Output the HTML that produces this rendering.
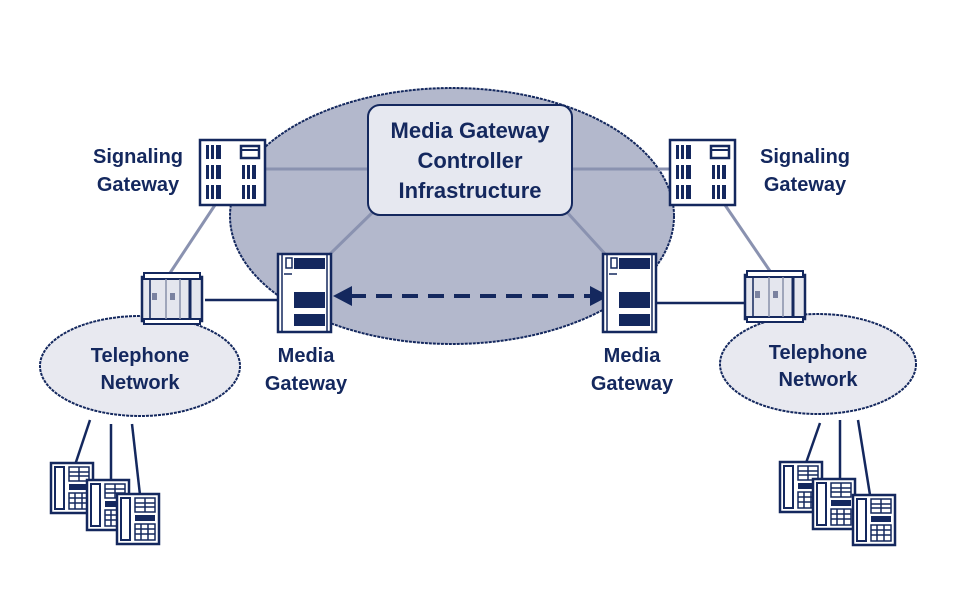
<!DOCTYPE html>
<html><head><meta charset="utf-8"><style>
html,body{margin:0;padding:0;background:#fff;}
svg{display:block;}
text{font-family:"Liberation Sans",Arial,sans-serif;font-weight:bold;fill:#14285e;}
</style></head><body>
<svg width="954" height="608" viewBox="0 0 954 608" xmlns="http://www.w3.org/2000/svg">
<defs>
<g id="phone">
  <rect x="0" y="0" width="42" height="50" fill="#fff" stroke="#14285e" stroke-width="2.5"/>
  <rect x="4" y="4" width="9" height="42" fill="#fff" stroke="#14285e" stroke-width="2"/>
  <rect x="18" y="4" width="20" height="14" fill="none" stroke="#14285e" stroke-width="1.5"/>
  <line x1="18" y1="9" x2="38" y2="9" stroke="#14285e" stroke-width="1.5"/>
  <line x1="18" y1="13" x2="38" y2="13" stroke="#14285e" stroke-width="1.5"/>
  <line x1="28" y1="4" x2="28" y2="18" stroke="#14285e" stroke-width="1.5"/>
  <rect x="18" y="21" width="20" height="6" fill="#14285e"/>
  <rect x="18" y="30" width="20" height="16" fill="none" stroke="#14285e" stroke-width="1.5"/>
  <line x1="18" y1="35" x2="38" y2="35" stroke="#14285e" stroke-width="1.5"/>
  <line x1="18" y1="40" x2="38" y2="40" stroke="#14285e" stroke-width="1.5"/>
  <line x1="24" y1="30" x2="24" y2="46" stroke="#14285e" stroke-width="1.5"/>
  <line x1="31" y1="30" x2="31" y2="46" stroke="#14285e" stroke-width="1.5"/>
</g>
<g id="sg">
  <rect x="0" y="0" width="65" height="65" fill="#fff" stroke="#14285e" stroke-width="2.5"/>
  <g fill="#14285e">
    <rect x="6" y="5" width="3" height="14"/><rect x="11" y="5" width="3" height="14"/><rect x="16" y="5" width="5" height="14"/>
    <rect x="6" y="25" width="3" height="14"/><rect x="11" y="25" width="3" height="14"/><rect x="16" y="25" width="5" height="14"/>
    <rect x="6" y="45" width="3" height="14"/><rect x="11" y="45" width="3" height="14"/><rect x="16" y="45" width="5" height="14"/>
    <rect x="42" y="25" width="3" height="14"/><rect x="47" y="25" width="3" height="14"/><rect x="52" y="25" width="4" height="14"/>
    <rect x="42" y="45" width="3" height="14"/><rect x="47" y="45" width="3" height="14"/><rect x="52" y="45" width="4" height="14"/>
  </g>
  <rect x="41" y="6" width="18" height="12" fill="#fff" stroke="#14285e" stroke-width="2.5"/>
  <line x1="41" y1="10" x2="59" y2="10" stroke="#14285e" stroke-width="2"/>
</g>
<g id="mg">
  <rect x="0" y="0" width="53" height="78" fill="#fff" stroke="#14285e" stroke-width="2.5"/>
  <line x1="4" y1="0" x2="4" y2="78" stroke="#14285e" stroke-width="1.5"/>
  <line x1="49" y1="0" x2="49" y2="78" stroke="#14285e" stroke-width="1.5"/>
  <rect x="8" y="4" width="6" height="10" fill="#fff" stroke="#14285e" stroke-width="1.5"/>
  <rect x="16" y="4" width="31" height="11" fill="#14285e"/>
  <line x1="6" y1="20" x2="14" y2="20" stroke="#14285e" stroke-width="1.5"/>
  <rect x="16" y="38" width="31" height="16" fill="#14285e"/>
  <rect x="16" y="60" width="31" height="12" fill="#14285e"/>
</g>
<g id="conn">
  <rect x="0" y="4" width="60" height="44" fill="#e4e6ee" stroke="#14285e" stroke-width="2.5"/>
  <rect x="2" y="0" width="56" height="6" fill="#fff" stroke="#14285e" stroke-width="2"/>
  <rect x="2" y="46" width="56" height="5" fill="#fff" stroke="#14285e" stroke-width="2"/>
  <line x1="8" y1="6" x2="8" y2="46" stroke="#14285e" stroke-width="1.5"/>
  <line x1="24" y1="6" x2="24" y2="46" stroke="#8890aa" stroke-width="1.5"/>
  <line x1="38" y1="6" x2="38" y2="46" stroke="#8890aa" stroke-width="1.5"/>
  <line x1="48" y1="6" x2="48" y2="46" stroke="#14285e" stroke-width="3"/>
  <rect x="10" y="20" width="5" height="7" fill="#7a82a0"/>
  <rect x="28" y="20" width="5" height="7" fill="#7a82a0"/>
</g>
</defs>

<!-- big ellipse -->
<ellipse cx="452" cy="216" rx="222" ry="128" fill="#b3b8cc" stroke="#14285e" stroke-width="2" stroke-dasharray="3,1"/>

<!-- lines -->
<g stroke="#8a92b0" stroke-width="3">
  <line x1="265" y1="169" x2="370" y2="169"/>
  <line x1="570" y1="169" x2="670" y2="169"/>
  <line x1="215" y1="205" x2="168" y2="276"/>
  <line x1="725" y1="205" x2="772" y2="274"/>
  <line x1="375" y1="210" x2="328" y2="256"/>
  <line x1="565" y1="210" x2="606" y2="255"/>
</g>
<g stroke="#14285e" stroke-width="2.5">
  <line x1="205" y1="300" x2="280" y2="300"/>
  <line x1="656" y1="303" x2="747" y2="303"/>
</g>

<!-- MGC box -->
<rect x="368" y="105" width="204" height="110" rx="12" fill="#e6e8f0" stroke="#14285e" stroke-width="2"/>
<text x="470" y="138" font-size="22" text-anchor="middle">Media Gateway</text>
<text x="470" y="168" font-size="22" text-anchor="middle">Controller</text>
<text x="470" y="198" font-size="22" text-anchor="middle">Infrastructure</text>

<!-- dashed arrow -->
<line x1="350" y1="296" x2="592" y2="296" stroke="#14285e" stroke-width="4" stroke-dasharray="16,10"/>
<polygon points="333,296 352,286 352,306" fill="#14285e"/>
<polygon points="609,296 590,286 590,306" fill="#14285e"/>

<!-- telephone networks -->
<ellipse cx="140" cy="366" rx="100" ry="50" fill="#e8e9f0" stroke="#14285e" stroke-width="2" stroke-dasharray="3,1"/>
<ellipse cx="818" cy="364" rx="98" ry="50" fill="#e8e9f0" stroke="#14285e" stroke-width="2" stroke-dasharray="3,1"/>
<text x="140" y="362" font-size="20" text-anchor="middle">Telephone</text>
<text x="140" y="389" font-size="20" text-anchor="middle">Network</text>
<text x="818" y="359" font-size="20" text-anchor="middle">Telephone</text>
<text x="818" y="386" font-size="20" text-anchor="middle">Network</text>

<!-- phone lines -->
<g stroke="#14285e" stroke-width="2.5" fill="none">
  <line x1="90" y1="420" x2="75" y2="465"/>
  <line x1="111" y1="424" x2="111" y2="482"/>
  <line x1="132" y1="424" x2="140" y2="495"/>
  <line x1="820" y1="423" x2="806" y2="463"/>
  <line x1="840" y1="420" x2="840" y2="480"/>
  <line x1="858" y1="420" x2="870" y2="495"/>
</g>
<use href="#phone" x="51" y="463"/>
<use href="#phone" x="87" y="480"/>
<use href="#phone" x="117" y="494"/>
<use href="#phone" x="780" y="462"/>
<use href="#phone" x="813" y="479"/>
<use href="#phone" x="853" y="495"/>

<!-- devices -->
<use href="#sg" x="200" y="140"/>
<use href="#sg" x="670" y="140"/>
<use href="#mg" x="278" y="254"/>
<use href="#mg" x="603" y="254"/>
<use href="#conn" x="142" y="273"/>
<use href="#conn" x="745" y="271"/>

<!-- labels -->
<text x="138" y="163" font-size="20" text-anchor="middle">Signaling</text>
<text x="138" y="191" font-size="20" text-anchor="middle">Gateway</text>
<text x="805" y="163" font-size="20" text-anchor="middle">Signaling</text>
<text x="805" y="191" font-size="20" text-anchor="middle">Gateway</text>
<text x="306" y="362" font-size="20" text-anchor="middle">Media</text>
<text x="306" y="390" font-size="20" text-anchor="middle">Gateway</text>
<text x="632" y="362" font-size="20" text-anchor="middle">Media</text>
<text x="632" y="390" font-size="20" text-anchor="middle">Gateway</text>
</svg>
</body></html>
